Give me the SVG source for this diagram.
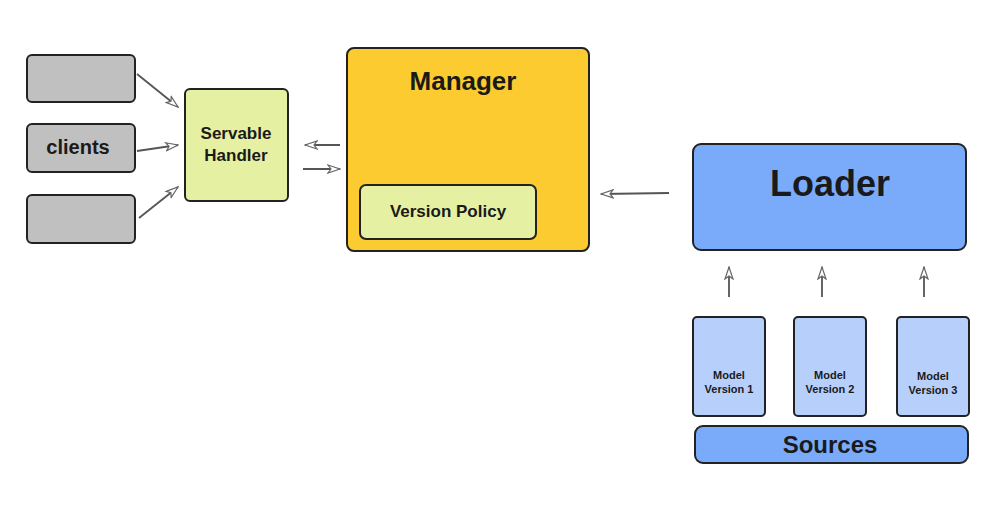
<svg xmlns="http://www.w3.org/2000/svg" width="1001" height="506" viewBox="0 0 1001 506">
<style>
.box{stroke:#222;stroke-width:2}
.t{font-family:"Liberation Sans",Arial,sans-serif;font-weight:bold;fill:#1a1a1a;text-anchor:middle}
.c{stroke:#555;stroke-width:1.8;fill:none;marker-end:url(#ah)}
</style>
<defs>
<marker id="ah" viewBox="0 0 14 10" refX="13" refY="5" markerWidth="14" markerHeight="10" markerUnits="userSpaceOnUse" orient="auto">
<path d="M1,1 L13,5 L1,9 L4,5 Z" fill="#fff" stroke="#666" stroke-width="1.2"/>
</marker>
</defs>
<rect width="1001" height="506" fill="#fff"/>
<g id="client1"><rect class="box" x="27" y="55" width="108" height="47" rx="5" fill="#c0c0c0"/></g>
<g id="clients"><rect class="box" x="27" y="124" width="108" height="48" rx="5" fill="#c0c0c0"/><text class="t" x="78" y="154" font-size="20">clients</text></g>
<g id="client3"><rect class="box" x="27" y="195" width="108" height="48" rx="5" fill="#c0c0c0"/></g>
<g id="handler"><rect class="box" x="185" y="89" width="103" height="112" rx="5" fill="#e6f0a3"/><text class="t" x="236" y="139" font-size="17">Servable</text><text class="t" x="236" y="161" font-size="17">Handler</text></g>
<g id="manager"><rect class="box" x="347" y="48" width="242" height="203" rx="7" fill="#fccb2f"/><text class="t" x="463" y="90" font-size="26">Manager</text></g>
<g id="policy"><rect class="box" x="360" y="185" width="176" height="54" rx="6" fill="#e6f0a3"/><text class="t" x="448" y="217" font-size="17">Version Policy</text></g>
<g id="loader"><rect class="box" x="693" y="144" width="273" height="106" rx="8" fill="#7aabfb"/><text class="t" x="830" y="196" font-size="36">Loader</text></g>
<g id="mv1"><rect class="box" x="693" y="317" width="72" height="99" rx="4" fill="#b7d0fb"/><text class="t" x="729" y="379" font-size="11">Model</text><text class="t" x="729" y="393" font-size="11">Version 1</text></g>
<g id="mv2"><rect class="box" x="794" y="317" width="72" height="99" rx="4" fill="#b7d0fb"/><text class="t" x="830" y="379" font-size="11">Model</text><text class="t" x="830" y="393" font-size="11">Version 2</text></g>
<g id="mv3"><rect class="box" x="897" y="317" width="72" height="99" rx="4" fill="#b7d0fb"/><text class="t" x="933" y="380" font-size="11">Model</text><text class="t" x="933" y="394" font-size="11">Version 3</text></g>
<g id="sources"><rect class="box" x="695" y="426" width="273" height="37" rx="8" fill="#7aabfb"/><text class="t" x="830" y="453" font-size="24">Sources</text></g>
<g id="connectors">
<line class="c" x1="137" y1="74" x2="178" y2="107"/>
<line class="c" x1="137" y1="151" x2="178" y2="145"/>
<line class="c" x1="139" y1="218" x2="178" y2="187"/>
<line class="c" x1="340" y1="145" x2="305" y2="145"/>
<line class="c" x1="303" y1="169" x2="340" y2="169"/>
<line class="c" x1="669" y1="193" x2="601" y2="194"/>
<line class="c" x1="729" y1="297" x2="729" y2="267"/>
<line class="c" x1="822" y1="297" x2="822" y2="267"/>
<line class="c" x1="924" y1="297" x2="924" y2="267"/>
</g>
</svg>
